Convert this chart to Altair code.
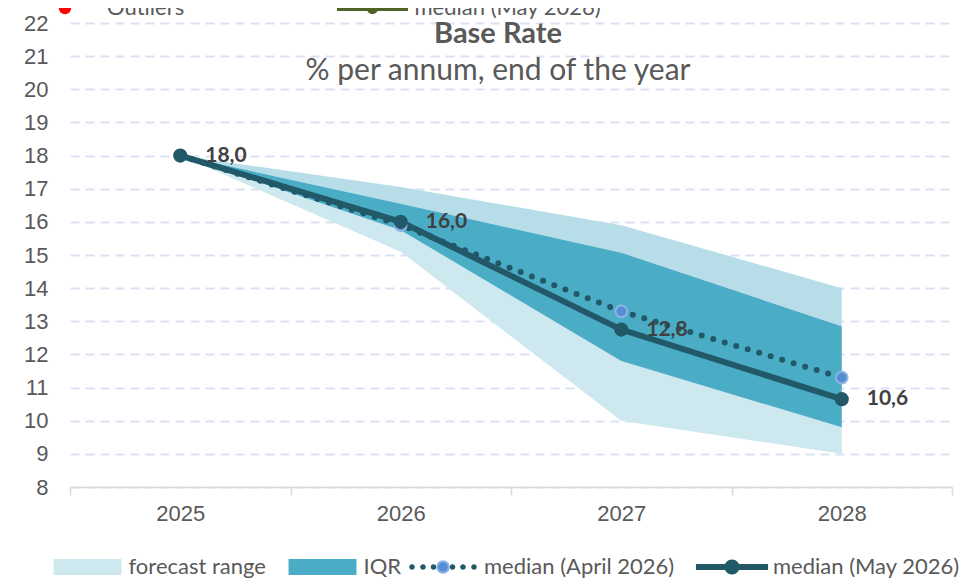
import altair as alt
import pandas as pd

# ---------------- data ----------------
years = ["2025", "2026", "2027", "2028"]
range_low = [18.0, 15.1, 10.0, 9.0]
range_high = [18.0, 17.05, 15.9, 14.0]
iqr_low = [18.0, 15.75, 11.8, 9.8]
iqr_high = [18.0, 16.55, 15.07, 12.85]
median_april = [18.0, 15.9, 13.3, 11.3]
median_may = [18.0, 16.0, 12.75, 10.65]
may_labels = ["18,0", "16,0", "12,8", "10,6"]

band_names = ["forecast range", "IQR"]
median_names = ["median (April 2026)", "median (May 2026)"]
top_names = ["Outliers", "median (May 2026)"]
y_ticks = list(range(8, 23))
title_text = "Base Rate"
subtitle_text = "% per annum, end of the year"

df = pd.DataFrame({
    "year": years,
    "range_low": range_low,
    "range_high": range_high,
    "iqr_low": iqr_low,
    "iqr_high": iqr_high,
    "apr": median_april,
    "may": median_may,
    "label": may_labels,
})

# ---------------- style ----------------
C_LIGHT = "#CEE8EF"
C_LIGHT_UP = "#B7DEE8"
C_IQR = "#4BACC6"
C_DARK = "#215968"
C_APR_FILL = "#558ED5"
C_APR_STROKE = "#8EB4E3"
C_TEXT = "#595959"
C_OLIVE = "#4F6228"


def circ(cx, r):
    return (f"M{cx + r:.4f},0A{r:.4f},{r:.4f},0,1,1,{cx - r:.4f},0"
            f"A{r:.4f},{r:.4f},0,1,1,{cx + r:.4f},0Z")


U = 35.0  # px per path unit for symbolSize 4900
rect_path = "M-0.97,-0.23H0.97V0.23H-0.97Z"
may_path = "M-1.03,-0.086H1.03V0.086H-1.03Z" + circ(0, 7.5 / U)
apr_path = "".join(circ(c / U, 2.8 / U) for c in [-31, -20, -9.5, 9.5, 20, 31])
U2 = 35.5
olive_path = "M-1,-0.085H1V0.085H-1Z" + circ(0, 6 / U2)

LBL = dict(labelFont="Lato", labelFontSize=22, labelColor=C_TEXT, labelLimit=400)

legend_bands = alt.Legend(
    orient="none", legendX=-17.5, legendY=509, direction="horizontal", title=None,
    padding=0, columnPadding=21, labelOffset=6, symbolOffset=0, symbolSize=4900,
    symbolType=rect_path, symbolStrokeWidth=0, symbolOpacity=1, **LBL,
)
legend_medians = alt.Legend(
    orient="none", legendX=338, legendY=509, direction="horizontal", title=None,
    padding=0, columnPadding=20, labelOffset=6, symbolOffset=0, symbolSize=4900,
    symbolFillColor=C_DARK, symbolStrokeColor="transparent", symbolStrokeWidth=0,
    symbolOpacity=1, zindex=1, **LBL,
)
legend_apr_dot = alt.Legend(
    orient="none", legendX=366, legendY=537, title=None, padding=0,
    labelExpr="''", labelFontSize=10, symbolType="circle", symbolSize=135,
    symbolFillColor=C_APR_FILL, symbolStrokeWidth=2, symbolOpacity=1,
    symbolOffset=0, zindex=2,
)
legend_outliers = alt.Legend(
    orient="none", legendX=-16, legendY=-26, title=None, padding=0,
    labelOffset=31, symbolType="circle", symbolSize=154, symbolFillColor="#FF0000",
    symbolStrokeColor="#4F81BD", symbolStrokeWidth=2, symbolOpacity=1, symbolOffset=0,
    **LBL,
)
legend_olive = alt.Legend(
    orient="none", legendX=267, legendY=-50.5, title=None, padding=0,
    labelOffset=6.5, symbolType=olive_path, symbolSize=5041, symbolStrokeWidth=0,
    symbolOpacity=1, symbolOffset=0, **LBL,
)

x_axis = alt.Axis(
    title=None, labelAngle=0, tickBand="extent", ticks=True, tickSize=8,
    tickColor="#D9D9D9", tickWidth=1.5, domainColor="#D9D9D9", domainWidth=1.5,
    labelFont="Liberation Sans", labelFontSize=22, labelColor=C_TEXT,
    labelPadding=8, grid=False,
)
y_axis = alt.Axis(
    title=None, values=y_ticks, grid=True, gridColor="#D9E1F2", gridWidth=2,
    gridDash=[9, 6], domain=False, ticks=False, labelFont="Liberation Sans",
    labelFontSize=22, labelColor=C_TEXT, labelPadding=22,
)

x_enc = alt.X("year:O", bandPosition=0.5,
              scale=alt.Scale(type="band", domain=years, paddingInner=0, paddingOuter=0),
              axis=x_axis)
y_scale = alt.Scale(domain=[8, 22], nice=False, zero=False)


def Y(field):
    return alt.Y(field, type="quantitative", scale=y_scale, axis=y_axis)


base = alt.Chart(df)
empty = base.transform_filter("false")

low_band = base.transform_calculate(band="'forecast range'").mark_area(opacity=1).encode(
    x=x_enc, y=Y("range_low"), y2=alt.Y2("iqr_low"),
    color=alt.Color("band:N", scale=alt.Scale(domain=band_names, range=[C_LIGHT, C_IQR]),
                    legend=legend_bands),
)
up_band = base.mark_area(opacity=1, color=C_LIGHT_UP).encode(
    x=x_enc, y=Y("iqr_high"), y2=alt.Y2("range_high"),
)
iqr_band = base.transform_calculate(band="'IQR'").mark_area(opacity=1).encode(
    x=x_enc, y=Y("iqr_low"), y2=alt.Y2("iqr_high"),
    color=alt.Color("band:N"),
)
apr_line = base.mark_line(strokeDash=[0, 12], strokeCap="round", strokeWidth=6,
                          color=C_DARK).encode(x=x_enc, y=Y("apr"))
may_line = base.mark_line(strokeWidth=6, color=C_DARK).encode(x=x_enc, y=Y("may"))
apr_pts = base.mark_point(filled=True, size=135, fill=C_APR_FILL, stroke=C_APR_STROKE,
                          strokeWidth=2, opacity=1, shape="circle").encode(x=x_enc, y=Y("apr"))
may_pts = base.mark_point(filled=True, size=200, fill=C_DARK, opacity=1,
                          shape="circle").encode(x=x_enc, y=Y("may"))
labels = base.mark_text(align="left", baseline="middle", dx=25, font="Lato", fontSize=21,
                        fontWeight="bold", color="#404040").encode(
    x=x_enc, y=Y("may"), text="label:N",
)

# legend-only layers (no rows drawn)
leg_medians = empty.transform_calculate(med="'median (April 2026)'").mark_point(
    filled=True, opacity=1, color=C_DARK, strokeWidth=0).encode(
    shape=alt.Shape("med:N", scale=alt.Scale(domain=median_names, range=[apr_path, may_path]),
                    legend=legend_medians),
)
leg_apr_dot = empty.transform_calculate(mk="'apr marker'").mark_point(
    filled=True, opacity=1, fill=C_APR_FILL, strokeWidth=2).encode(
    stroke=alt.Stroke("mk:N", scale=alt.Scale(domain=["apr marker"], range=[C_APR_STROKE]),
                      legend=legend_apr_dot),
)
leg_outliers = empty.transform_calculate(out="'Outliers'").mark_point(
    filled=True, opacity=1, fill="#FF0000", stroke="#4F81BD", strokeWidth=2).encode(
    strokeDash=alt.StrokeDash("out:N", scale=alt.Scale(domain=["Outliers"], range=[[1, 0]]),
                              legend=legend_outliers),
)
leg_olive = empty.transform_calculate(ol="'median (May 2026)'").mark_point(
    filled=True, opacity=1).encode(
    fill=alt.Fill("ol:N", scale=alt.Scale(domain=[top_names[1]], range=[C_OLIVE]),
                  legend=legend_olive),
)

chart = alt.layer(
    low_band, up_band, iqr_band, apr_line, may_line, apr_pts, may_pts, labels,
    leg_medians, leg_apr_dot, leg_outliers, leg_olive,
).properties(
    width=882, height=464,
    autosize=alt.AutoSizeParams(type="none"),
    padding={"left": 62, "top": 15, "right": 8, "bottom": 91},
    background="white",
    title=alt.Title(
        title_text, subtitle=subtitle_text, anchor="middle", font="Lato", fontSize=29,
        fontWeight="bold", color=C_TEXT, subtitleFont="Lato", subtitleFontSize=30,
        subtitleColor=C_TEXT, subtitlePadding=7, offset=0, dy=113, dx=-13,
    ),
).configure_view(stroke=None)

chart.save("out.html", embed_options={"renderer": "svg", "actions": False})
